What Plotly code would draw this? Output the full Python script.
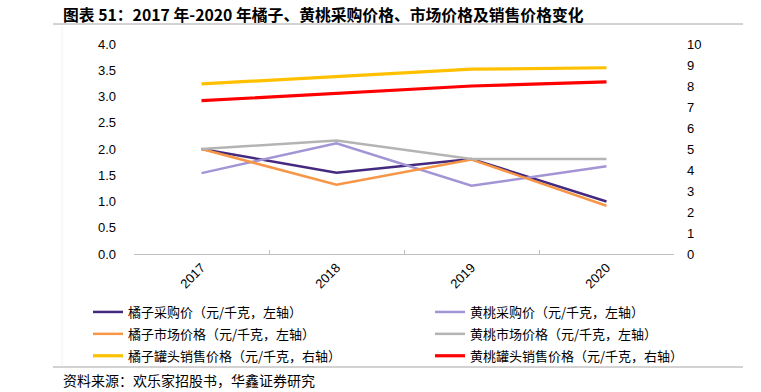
import plotly.graph_objects as go

years = ["2017", "2018", "2019", "2020"]
orange_purchase = [2.0, 1.55, 1.81, 1.0]
peach_purchase = [1.54, 2.11, 1.30, 1.67]
orange_market = [2.0, 1.32, 1.80, 0.92]
peach_market = [2.0, 2.16, 1.81, 1.81]
orange_can = [8.1, 8.45, 8.8, 8.87]
peach_can = [7.3, 7.65, 8.0, 8.2]

left_ticks = [0, 0.5, 1.0, 1.5, 2.0, 2.5, 3.0, 3.5, 4.0]
left_ticktext = ["0.0", "0.5", "1.0", "1.5", "2.0", "2.5", "3.0", "3.5", "4.0"]
right_ticks = list(range(0, 11))

series = [
    ("橘子采购价（元/千克，左轴）", orange_purchase, "#44297F", 2.5, "y", "legend"),
    ("黄桃采购价（元/千克，左轴）", peach_purchase, "#A395D5", 2.5, "y", "legend2"),
    ("橘子市场价格（元/千克，左轴）", orange_market, "#F79646", 2.5, "y", "legend"),
    ("黄桃市场价格（元/千克，左轴）", peach_market, "#B4B4B4", 2.5, "y", "legend2"),
    ("橘子罐头销售价格（元/千克，右轴）", orange_can, "#FFC000", 3.2, "y2", "legend"),
    ("黄桃罐头销售价格（元/千克，右轴）", peach_can, "#FF0000", 3.2, "y2", "legend2"),
]

fig = go.Figure()
for i, (name, vals, color, w, ax, lg) in enumerate(series):
    fig.add_trace(go.Scatter(x=years, y=vals, name=name, mode="lines",
                             line=dict(color=color, width=w), yaxis=ax,
                             legend=lg, legendgroup=f"g{i}"))

tickfont = dict(family="Liberation Sans, Arial, sans-serif", size=13, color="#000000")
legfont = dict(family="Noto Sans CJK SC", size=13, color="#000000")

W, H = 761, 392
PL, PW, PT, PH = 134, 540, 44, 210


def px(x):
    return (x - PL) / PW


def py(y):
    return (PT + PH - y) / PH


fig.update_layout(
    width=W, height=H,
    margin=dict(l=PL, r=W - PL - PW, t=PT, b=H - PT - PH, autoexpand=False),
    paper_bgcolor="white", plot_bgcolor="white",
    showlegend=True,
    legend=dict(orientation="v", xref="container", yref="container",
                x=88/W, y=1-297/H, xanchor="left", yanchor="top",
                font=legfont, itemwidth=30, tracegroupgap=2,
                bgcolor="rgba(0,0,0,0)"),
    legend2=dict(orientation="v", xref="container", yref="container",
                 x=430/W, y=1-297/H, xanchor="left", yanchor="top",
                 font=legfont, itemwidth=30, tracegroupgap=2,
                 bgcolor="rgba(0,0,0,0)"),
    xaxis=dict(type="category", showgrid=False, showline=True, linecolor="#BFBFBF",
               linewidth=1, ticks="inside", ticklen=4, tickcolor="#BFBFBF",
               tickson="boundaries", tickangle=-45, tickfont=tickfont,
               range=[-0.5, 3.5], automargin=False),
    yaxis=dict(range=[0, 4], tickvals=left_ticks, ticktext=left_ticktext,
               showgrid=False, zeroline=False, showline=False, ticks="",
               tickfont=tickfont, ticklabelstandoff=17, automargin=False),
    yaxis2=dict(range=[0, 10], tickvals=right_ticks, overlaying="y", side="right",
                showgrid=False, zeroline=False, showline=False, ticks="",
                tickfont=tickfont, ticklabelstandoff=12, automargin=False),
    annotations=[
        dict(text="<b>图表 51：2017 年-2020 年橘子、黄桃采购价格、市场价格及销售价格变化</b>",
             xref="paper", yref="paper", x=px(61), y=py(14),
             xanchor="left", yanchor="middle", showarrow=False,
             font=dict(family="Noto Sans CJK SC", size=15.8, color="#000000")),
        dict(text="资料来源：欢乐家招股书，华鑫证券研究",
             xref="paper", yref="paper", x=px(61), y=py(380),
             xanchor="left", yanchor="middle", showarrow=False,
             font=dict(family="Noto Sans CJK SC", size=14, color="#000000")),
    ],
    shapes=[
        dict(type="line", xref="paper", yref="paper", x0=px(53), x1=px(743),
             y0=py(24), y1=py(24), line=dict(color="#A6A6A6", width=1)),
        dict(type="line", xref="paper", yref="paper", x0=px(53), x1=px(743),
             y0=py(367), y1=py(367), line=dict(color="#A6A6A6", width=1)),
        dict(type="line", xref="paper", yref="paper", x0=px(62), x1=px(62),
             y0=py(366), y1=py(26), line=dict(color="#F2F2F2", width=1)),
    ],
)

fig.write_html("out.html", config={"displayModeBar": False},
               post_script="document.body.style.margin='0';document.body.style.overflow='hidden';")
